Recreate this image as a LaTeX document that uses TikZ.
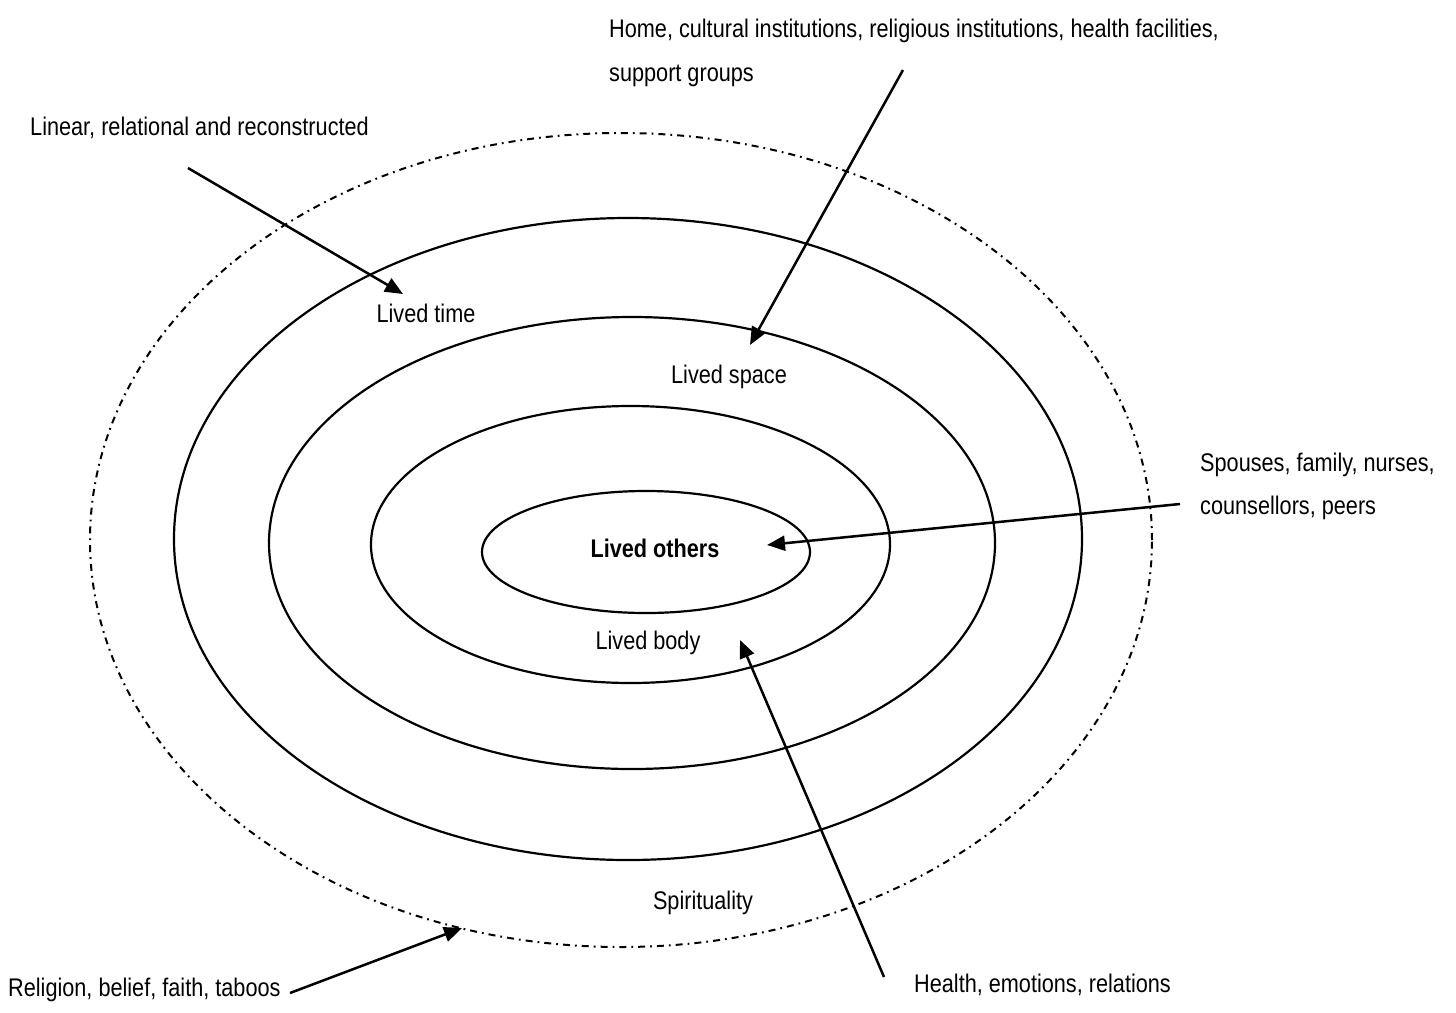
\documentclass[tikz,border=0pt]{standalone}
\usepackage{fontspec}
\setmainfont{Liberation Sans}[FakeStretch=0.85]
\usetikzlibrary{arrows.meta}
\begin{document}
\begin{tikzpicture}[x=1pt,y=-1pt,
  lbl/.style={font=\fontsize{25.5}{44}\selectfont, inner sep=0pt},
  ring/.style={line width=2.2pt},
  spirit/.style={line width=2pt, dash pattern=on 7pt off 5pt on 1.8pt off 5pt},
  pointer/.style={line width=2.5pt, -{Triangle[length=18pt,width=15pt]}}]
\useasboundingbox (0,0) rectangle (1456,1012);

% rings
\draw[spirit] (621,540) ellipse [x radius=531pt, y radius=407pt];
\draw[ring] (628,539) ellipse [x radius=454pt, y radius=321pt];
\draw[ring] (632,543) ellipse [x radius=363pt, y radius=226pt];
\draw[ring] (630.5,544.5) ellipse [x radius=259.5pt, y radius=138.5pt];
\draw[ring] (646,552) ellipse [x radius=164pt, y radius=61pt];

% ring labels
\node[lbl, anchor=base] (time) at (426,322) {Lived time};
\node[lbl, anchor=base] (space) at (729,383) {Lived space};
\node[lbl, anchor=base, font=\fontsize{25.5}{44}\selectfont\bfseries] (others) at (655,557) {Lived others};
\node[lbl, anchor=base] (body) at (648,649) {Lived body};
\node[lbl, anchor=base] (spirituality) at (703,909) {Spirituality};

% outer labels
\node[lbl, anchor=base west] (linear) at (30,135) {Linear, relational and reconstructed};
\node[lbl, anchor=base west] (home) at (609,37) {Home, cultural institutions, religious institutions, health facilities,};
\node[lbl, anchor=base west] (home2) at (609,81) {support groups};
\node[lbl, anchor=base west] (spouses) at (1200,471) {Spouses, family, nurses,};
\node[lbl, anchor=base west] (spouses2) at (1200,514) {counsellors, peers};
\node[lbl, anchor=base west] (religion) at (8,996) {Religion, belief, faith, taboos};
\node[lbl, anchor=base west] (health) at (914,992) {Health, emotions, relations};

% arrow end points
\coordinate (linearStart) at (188,168);
\coordinate (timeTip) at (403,294);
\coordinate (homeStart) at (903,70);
\coordinate (spaceTip) at (750,345);
\coordinate (spousesStart) at (1180,504);
\coordinate (othersTip) at (767,545);
\coordinate (healthStart) at (884,977);
\coordinate (bodyTip) at (740,640);
\coordinate (religionStart) at (290,993);
\coordinate (spiritTip) at (462,928);

\draw[pointer] (linearStart) -- (timeTip);
\draw[pointer] (homeStart) -- (spaceTip);
\draw[pointer] (spousesStart) -- (othersTip);
\draw[pointer] (healthStart) -- (bodyTip);
\draw[pointer] (religionStart) -- (spiritTip);
\end{tikzpicture}
\end{document}
